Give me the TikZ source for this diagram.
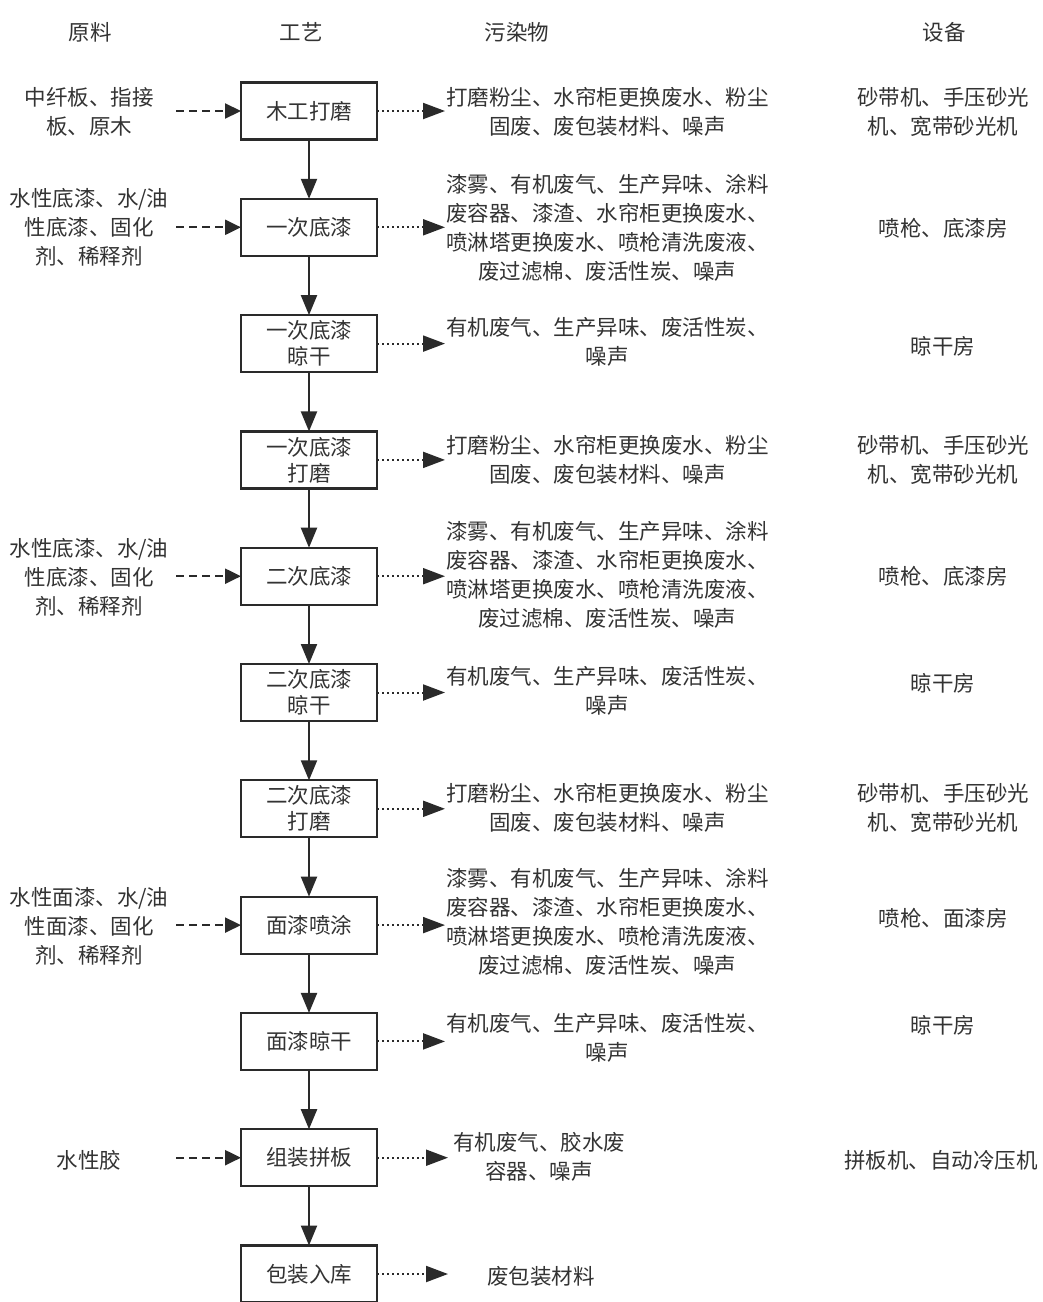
\documentclass[tikz,border=0pt]{standalone}
\usepackage{fontspec}
\setmainfont{Noto Sans CJK SC}
\usetikzlibrary{arrows.meta}
\definecolor{linec}{HTML}{2A2A2A}
\definecolor{txtc}{HTML}{333333}
\begin{document}
\begin{tikzpicture}[x=1pt,y=-1pt,
  every node/.style={text=txtc, inner sep=0pt, outer sep=0pt, font=\fontsize{21.5}{29}\selectfont},
  procbox/.style={draw=linec, line width=2.2pt, minimum width=136pt, minimum height=57pt, align=center, font=\fontsize{21.5}{26}\selectfont},
  multi/.style={align=center},
  flow/.style={draw=linec, line width=2.2pt, -{Triangle[length=20pt,width=16pt]}},
  inflow/.style={draw=linec, line width=2.2pt, dash pattern=on 8pt off 5pt, -{Triangle[length=16pt,width=15pt]}},
  outflow/.style={draw=linec, line width=2pt, dash pattern=on 2pt off 3pt, -{Triangle[length=22pt,width=16pt]}}
]
\useasboundingbox[fill=white] (0,0) rectangle (1043,1302);

% headers
\node (h1) at (90,32) {原料};
\node (h2) at (301,32) {工艺};
\node (h3) at (517,32) {污染物};
\node (h4) at (944,32) {设备};

% process boxes
\node[procbox] (b1) at (309,111) {木工打磨};
\node[procbox] (b2) at (309,227.3) {一次底漆};
\node[procbox] (b3) at (309,343.6) {一次底漆\\晾干};
\node[procbox] (b4) at (309,459.9) {一次底漆\\打磨};
\node[procbox] (b5) at (309,576.2) {二次底漆};
\node[procbox] (b6) at (309,692.5) {二次底漆\\晾干};
\node[procbox] (b7) at (309,808.8) {二次底漆\\打磨};
\node[procbox] (b8) at (309,925.1) {面漆喷涂};
\node[procbox] (b9) at (309,1041.4) {面漆晾干};
\node[procbox] (b10) at (309,1157.7) {组装拼板};
\node[procbox] (b11) at (309,1274) {包装入库};

\foreach \a/\b in {b1/b2,b2/b3,b3/b4,b4/b5,b5/b6,b6/b7,b7/b8,b8/b9,b9/b10,b10/b11}
  \draw[flow] (\a.south) -- (\b.north);

% raw materials
\node[multi] (r1) at (89,112) {中纤板、指接\\板、原木};
\node[multi] (r2) at (89,227) {水性底漆、水/油\\性底漆、固化\\剂、稀释剂};
\node[multi] (r5) at (89,577) {水性底漆、水/油\\性底漆、固化\\剂、稀释剂};
\node[multi] (r8) at (89,926) {水性面漆、水/油\\性面漆、固化\\剂、稀释剂};
\node (r10) at (89,1160) {水性胶};

\foreach \n in {1,2,5,8,10}{
  \coordinate (rs\n) at (176,0 |- b\n.center);
  \draw[inflow] (rs\n) -- (b\n.west);
}

% pollutants
\node[multi, anchor=west] (p1) at (446,112) {打磨粉尘、水帘柜更换废水、粉尘\\固废、废包装材料、噪声};
\node[multi, anchor=west] (p2) at (446,227.5) {漆雾、有机废气、生产异味、涂料\\废容器、漆渣、水帘柜更换废水、\\喷淋塔更换废水、喷枪清洗废液、\\废过滤棉、废活性炭、噪声};
\node[multi, anchor=west] (p3) at (446,342) {有机废气、生产异味、废活性炭、\\噪声};
\node[multi, anchor=west] (p4) at (446,460) {打磨粉尘、水帘柜更换废水、粉尘\\固废、废包装材料、噪声};
\node[multi, anchor=west] (p5) at (446,575) {漆雾、有机废气、生产异味、涂料\\废容器、漆渣、水帘柜更换废水、\\喷淋塔更换废水、喷枪清洗废液、\\废过滤棉、废活性炭、噪声};
\node[multi, anchor=west] (p6) at (446,691) {有机废气、生产异味、废活性炭、\\噪声};
\node[multi, anchor=west] (p7) at (446,808) {打磨粉尘、水帘柜更换废水、粉尘\\固废、废包装材料、噪声};
\node[multi, anchor=west] (p8) at (446,922) {漆雾、有机废气、生产异味、涂料\\废容器、漆渣、水帘柜更换废水、\\喷淋塔更换废水、喷枪清洗废液、\\废过滤棉、废活性炭、噪声};
\node[multi, anchor=west] (p9) at (446,1038) {有机废气、生产异味、废活性炭、\\噪声};
\node[multi, anchor=west] (p10) at (453,1157) {有机废气、胶水废\\容器、噪声};
\node[anchor=west] (p11) at (487,1276) {废包装材料};

\foreach \n in {1,...,9}{
  \coordinate (pe\n) at (445,0 |- b\n.center);
  \draw[outflow] (b\n.east) -- (pe\n);
}
\foreach \n in {10,11}{
  \coordinate (pe\n) at (448,0 |- b\n.center);
  \draw[outflow] (b\n.east) -- (pe\n);
}

% equipment
\node[multi] (e1) at (943,112) {砂带机、手压砂光\\机、宽带砂光机};
\node (e2) at (943,228) {喷枪、底漆房};
\node (e3) at (943,346) {晾干房};
\node[multi] (e4) at (943,460) {砂带机、手压砂光\\机、宽带砂光机};
\node (e5) at (943,576) {喷枪、底漆房};
\node (e6) at (943,683) {晾干房};
\node[multi] (e7) at (943,808) {砂带机、手压砂光\\机、宽带砂光机};
\node (e8) at (943,918) {喷枪、面漆房};
\node (e9) at (943,1025) {晾干房};
\node (e10) at (941,1160) {拼板机、自动冷压机};
\end{tikzpicture}
\end{document}
